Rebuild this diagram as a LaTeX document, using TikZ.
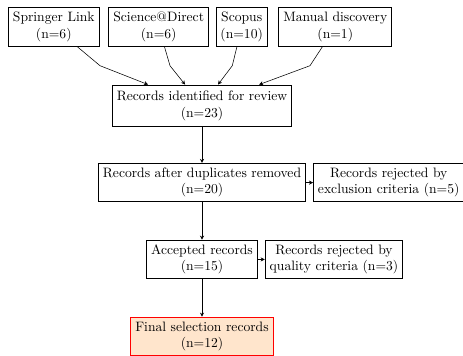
\documentclass[tikz,border=0pt]{standalone}
\usepackage{tikz}
\usetikzlibrary{positioning,arrows.meta}

\begin{document}
\begin{tikzpicture}[
            x=0.025767cm, y=-0.025767cm,
            node distance = 1.98cm,
            box/.style={draw,semithick,align=center},
            final/.style={box,draw=red,fill=orange!20},
            >={Stealth[length=3pt,width=3pt]}]
            \useasboundingbox (0,0) rectangle (463,356);
            % sources
            \node[box] (springer) at (53.8,27) {Springer Link\\(n=6)};
            \node[box] (science) at (158.7,27) {Science@Direct\\(n=6)};
            \node[box] (scopus) at (241.7,27) {Scopus\\(n=10)};
            \node[box] (manual) at (335.3,27) {Manual discovery\\(n=1)};
            
            \node[box,minimum height=30.5pt] (identified) at (202,105.8) {Records identified for review\\(n=23)};
            \node[box,below of=identified] (duplicates) {Records after duplicates removed\\(n=20)};
            \node[box,right=0.18cm of duplicates] (exclusion) {Records rejected by\\exclusion criteria (n=5)};
            \node[box,below of=duplicates] (accepted) {Accepted records\\(n=15)};
            \node[box,right=0.18cm of accepted] (quality) {Records rejected by\\quality criteria (n=3)};
            \node[final,below of=accepted] (selection) {Final selection records\\(n=12)};
            
            \coordinate (k1) at (100,65.7);
            \coordinate (k2) at (170,65.7);
            \coordinate (k3) at (232.3,65.7);
            \coordinate (k4) at (310,65.7);
            
            \draw[->] (springer) -- (k1) -- (identified);
            \draw[->] (science) -- (k2) -- (identified);
            \draw[->] (scopus) -- (k3) -- (identified);
            \draw[->] (manual) -- (k4) -- (identified);
            \draw[->] (identified) -- (duplicates);
            \draw[->] (duplicates) -- (exclusion);
            \draw[->] (duplicates) -- (accepted);
            \draw[->] (accepted) -- (quality);
            \draw[->] (accepted) -- (selection);
\end{tikzpicture}
\end{document}
